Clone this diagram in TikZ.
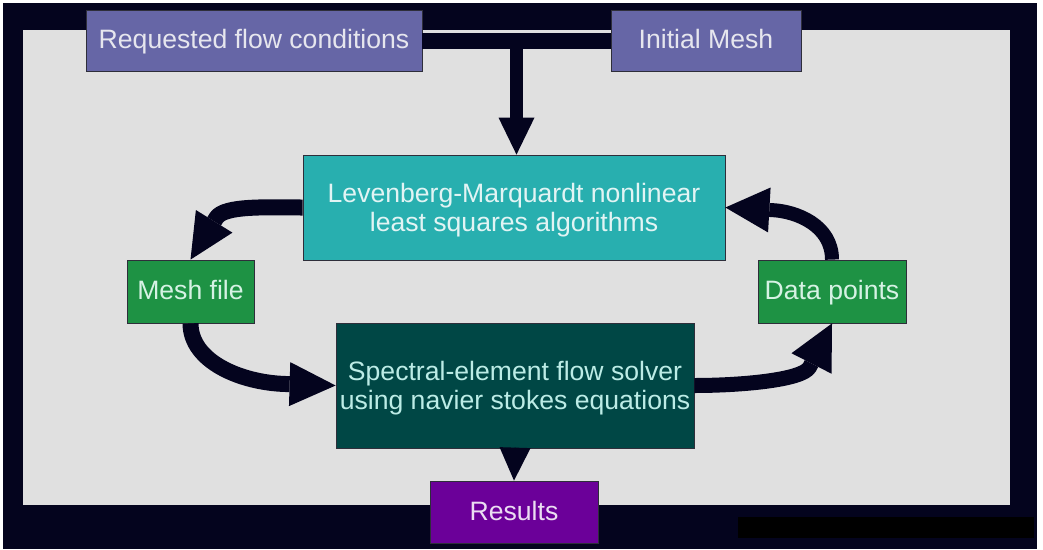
\documentclass[tikz,border=0pt]{standalone}
\usepackage{fontspec}
\setmainfont{Liberation Sans}
\usetikzlibrary{arrows.meta,calc}

\definecolor{frame}{HTML}{04041E}
\definecolor{panel}{HTML}{E0E0E0}
\definecolor{boxline}{HTML}{2E2E3A}
\definecolor{lav}{HTML}{6666A6}
\definecolor{teal}{HTML}{28AFAF}
\definecolor{leaf}{HTML}{1E9244}
\definecolor{deep}{HTML}{004745}
\definecolor{plum}{HTML}{6B0099}
\definecolor{txlav}{HTML}{E6E6EE}
\definecolor{txteal}{HTML}{E2F4F4}
\definecolor{txleaf}{HTML}{D6F2E4}
\definecolor{txdeep}{HTML}{BCECE6}
\definecolor{txplum}{HTML}{EBDDF2}

% taller first line, so two-line labels sit a little lower in their boxes
\newcommand{\firstline}{\rule{0pt}{24pt}}

\begin{document}
\begin{tikzpicture}[x=1pt,y=-1pt,
  box/.style={draw=boxline, line width=0.8pt, inner sep=0pt, align=center,
              font=\fontsize{26.6}{29}\selectfont},
  oneline/.style={box, text height=19pt, text depth=2.4pt},
  flow/.style={draw=frame, line width=#1, line join=round},
  head/.style args={#1x#2}{-{Triangle[length=#1pt,width=#2pt,line width=0pt]}},
]
% page, dark frame and light panel
\fill[white] (0,0) rectangle (1043,549);
\useasboundingbox (0,0) rectangle (1043,549);
\fill[frame] (3,3) rectangle (1037,549);
\fill[panel] (23,30) rectangle (1010,505);
\fill[black] (738,517) rectangle (1034,538);

% boxes
\node[oneline, fill=lav, text=txlav, minimum width=336pt, minimum height=61pt]
  (req) at (254,40.5) {Requested flow conditions};
\node[oneline, fill=lav, text=txlav, minimum width=190pt, minimum height=61pt]
  (ini) at (706,40.5) {Initial Mesh};
\node[box, fill=teal, text=txteal, minimum width=422pt, minimum height=105pt]
  (lm) at (514,207.5) {\firstline Levenberg-Marquardt nonlinear\\least squares algorithms};
\node[oneline, fill=leaf, text=txleaf, minimum width=127pt, minimum height=63pt]
  (mesh) at (190.5,291.5) {Mesh file};
\node[oneline, fill=leaf, text=txleaf, minimum width=148pt, minimum height=63pt]
  (dp) at (832,291.5) {Data points};
\node[box, fill=deep, text=txdeep, minimum width=358pt, minimum height=125pt]
  (sp) at (515,385.5) {\firstline Spectral-element flow solver\\using navier stokes equations};
\node[oneline, fill=plum, text=txplum, minimum width=168pt, minimum height=62pt]
  (res) at (514,512) {Results};

% inputs joined at the top and fed into the optimiser
\draw[flow=16pt] (req.east) -- (ini.west);
\coordinate (j) at ($(req.east)!0.5!(ini.west)$);
\draw[flow=13pt, head=37x36] (j) -- (j |- lm.north);

% optimisation loop
\draw[flow=16pt, head=45x43]
  (lm.west) .. controls +(-35,0) and +(7.9,-12.8) .. ($(mesh.north)+(25.8,-41.7)$) -- (mesh.north);
\draw[flow=16pt, head=46x44]
  (mesh.south) .. controls +(0,38) and +(-45,-1.3) .. ($(sp.west)+(-50,-1.5)$) -- (sp.west);
\draw[flow=15pt, head=45x45]
  (sp.east) .. controls +(45,0) and +(-6.8,13.3) .. ($(dp.south)+(-22.3,43.6)$) -- (dp.south);
\draw[flow=14pt, head=44x45]
  (dp.north) .. controls +(0,-35) and +(22,1.3) .. ($(lm.east)+(48,2.7)$) -- (lm.east);

% output
\draw[flow=1pt, head=33x31] (sp.south) -- (res.north);
\end{tikzpicture}
\end{document}
